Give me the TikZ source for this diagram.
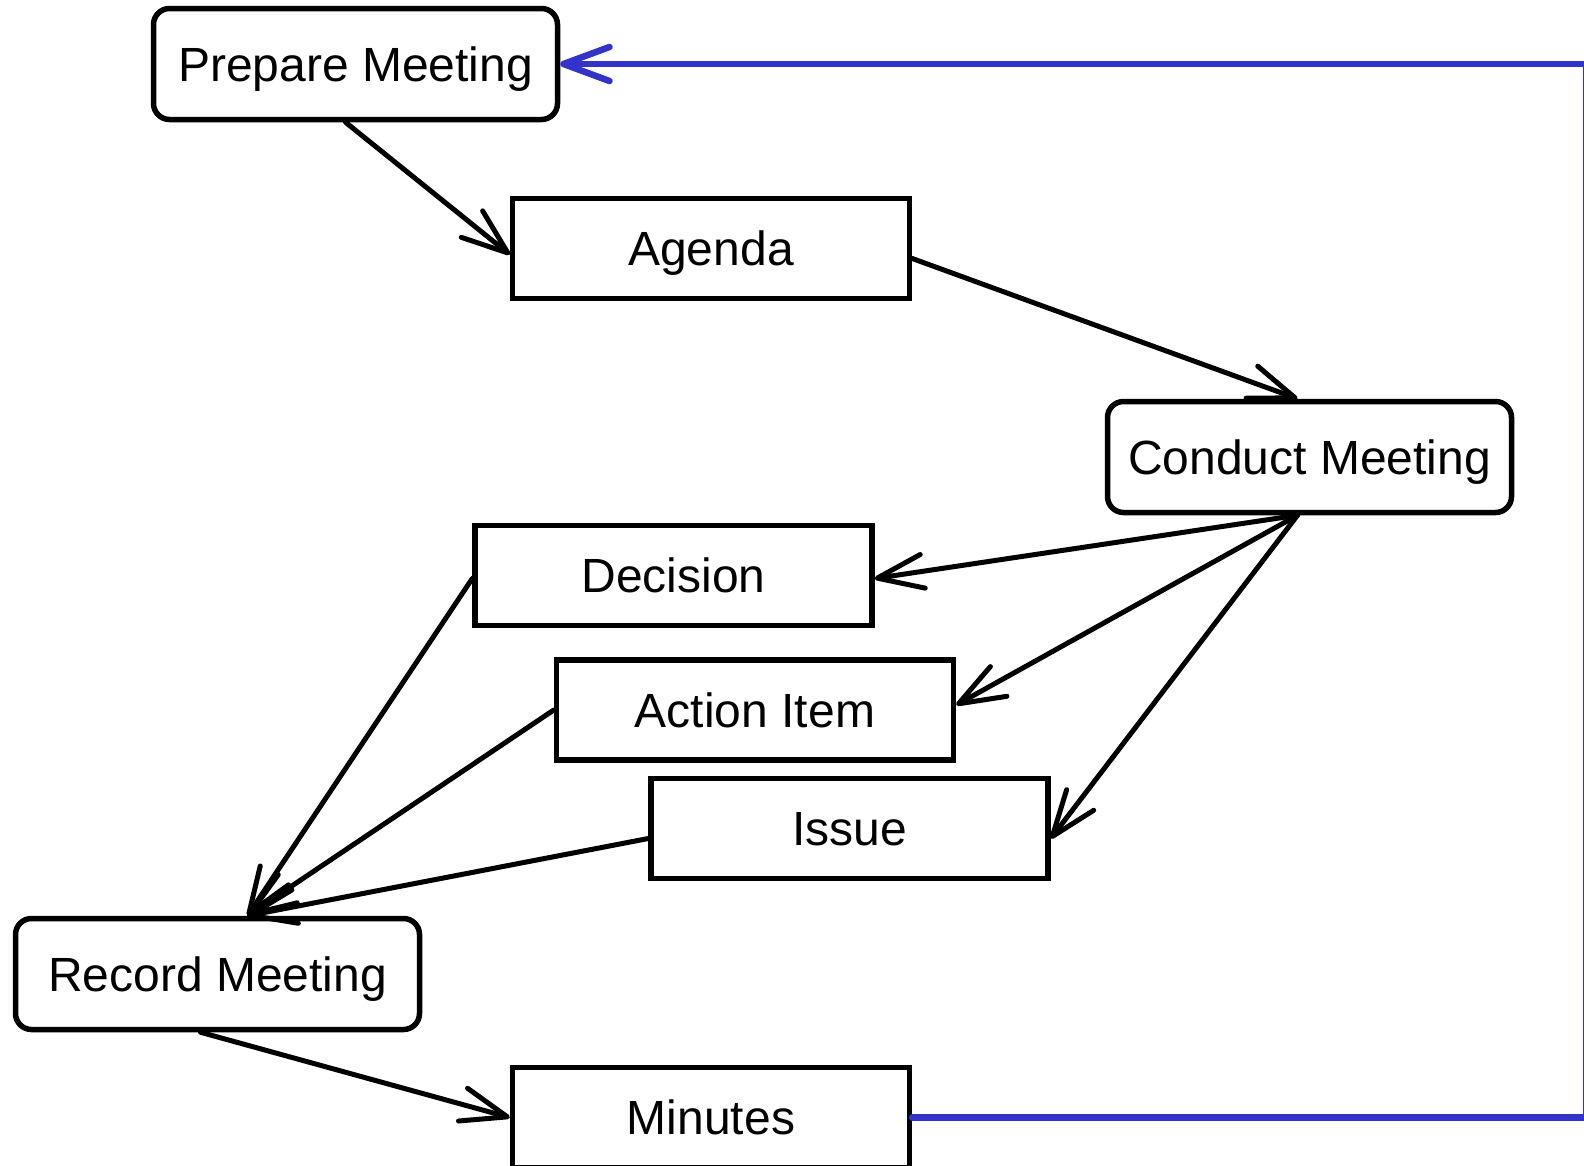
\documentclass[tikz,border=0pt]{standalone}
\usepackage{fontspec}
\setmainfont{Liberation Sans}
\usetikzlibrary{arrows.meta,calc}
\definecolor{flowblue}{RGB}{51,51,204}
\begin{document}
\begin{tikzpicture}[x=1pt,y=-1pt,
  box/.style={draw=black, line width=5.5pt, fill=white, inner sep=0pt,
    minimum width=397pt, minimum height=100pt, text depth=0pt,
    font=\fontsize{48}{58}\selectfont},
  rbox/.style={box, rounded corners=16pt, minimum width=404pt, minimum height=111pt},
  arr/.style={line width=5pt, line cap=round, line join=round,
    -{Straight Barb[length=46pt,width=34pt,line cap=round,line join=round]}},
  barr/.style={arr, draw=flowblue, line width=6.5pt}]
\useasboundingbox (0,0) rectangle (1584,1165);
\fill[white] (0,0) rectangle (1584,1165);

\node[rbox] (P) at (355.5,64) {Prepare Meeting};
\node[box]  (A) at (711,248.5) {Agenda};
\node[rbox] (C) at (1309.5,457) {Conduct Meeting};
\node[box]  (D) at (673.5,575.5) {Decision};
\node[box]  (I) at (755,710) {Action Item};
\node[box]  (S) at (849.5,828.5) {Issue};
\node[rbox] (R) at (217.5,974) {Record Meeting};
\node[box]  (M) at (711,1117.5) {Minutes};

\coordinate (cs) at ($(C.south)+(-12,0)$);
\coordinate (rt) at ($(R.north)+(30,0)$);
\coordinate (br) at (1586,1117.5);
\coordinate (tr) at (1586,64);

\draw[arr] ($(P.south)+(-10,0)$) -- ($(A.west)+(0,6)$);
\draw[arr] ($(A.east)+(0,10)$) -- ($(C.north)+(-12,0)$);
\draw[arr] (cs) -- ($(D.east)+(0,3)$);
\draw[arr] (cs) -- ($(I.east)+(0,-5)$);
\draw[arr] (cs) -- ($(S.east)+(0,10)$);
\draw[arr] ($(D.west)+(0,3)$) -- (rt);
\draw[arr] (I.west) -- (rt);
\draw[arr] ($(S.west)+(0,10)$) -- (rt);
\draw[arr] ($(R.south)+(-17,0)$) -- (M.west);
\draw[barr] (M.east) -- (br) -- (tr) -- (P.east);
\end{tikzpicture}
\end{document}
